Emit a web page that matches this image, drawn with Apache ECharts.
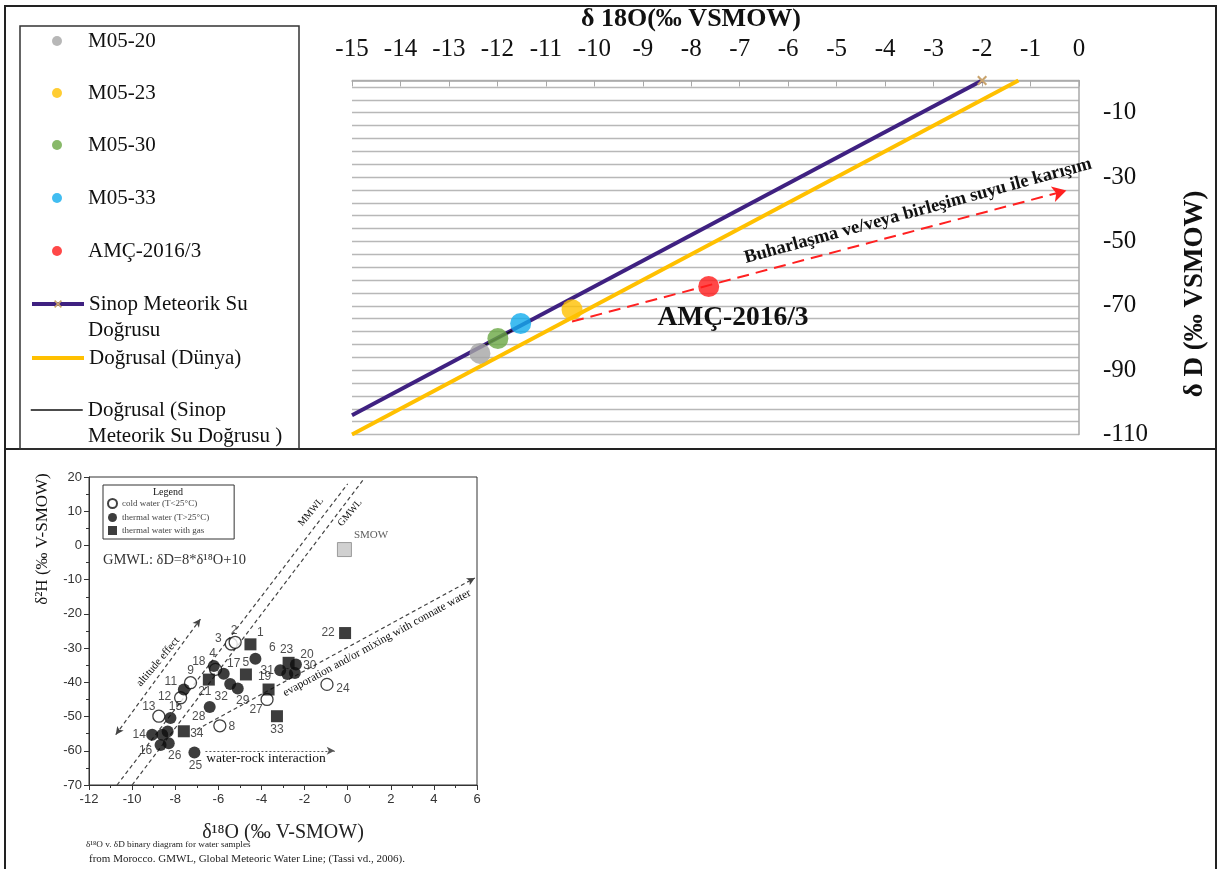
<!DOCTYPE html>
<html><head><meta charset="utf-8">
<script src="https://cdn.jsdelivr.net/npm/echarts@6/dist/echarts.min.js"></script>
<style>html,body{margin:0;padding:0;background:#fff}#c{width:1218px;height:869px}</style>
</head><body><div id="c"></div>
<script>
// ===== DATA: upper chart (Sinop samples) =====
const sampleNames = ['M05-20', 'M05-23', 'M05-30', 'M05-33', 'AMÇ-2016/3'];
const sampleO18 = [-12.36, -10.46, -11.99, -11.52, -7.64];
const sampleD = [-84.8, -71.2, -80.2, -75.5, -64.0];
const sinopLineO18 = [-15, -2];
const sinopLineD = [-104, 0];
const globalLineO18 = [-15, -1.25];
const globalLineD = [-110, 0];
const sinopTrendO18 = [-12.3, -11.7];
const sinopTrendD = [-82.5, -77.7];
const mixingO18 = [-10.46, -0.26];
const mixingD = [-74.9, -34.2];

// ===== DATA: lower chart (Morocco, Tassi et al. 2006) =====
const coldIds = ['3', '2', '4', '9', '12', '13', '8', '27', '24'];
const coldO18 = [-5.40, -5.22, -6.13, -7.29, -7.75, -8.76, -5.93, -3.74, -0.96];
const coldD = [-28.8, -28.3, -36.2, -40.1, -44.5, -49.9, -52.7, -45.0, -40.6];
const thermalIds = ['6', '18', '17', '32', '29', '11', '15', '14', '16', '26', '28', '25', '31', '20', '30', '', '', ''];
const thermalO18 = [-4.28, -6.21, -5.75, -5.45, -5.10, -7.60, -8.22, -9.07, -8.68, -8.30, -6.40, -7.11, -3.13, -2.40, -2.45, -8.60, -8.35, -2.80];
const thermalD = [-33.1, -35.2, -37.5, -40.5, -41.8, -42.1, -50.4, -55.3, -58.3, -57.8, -47.2, -60.5, -36.5, -34.8, -37.3, -55.3, -54.4, -37.6];
const gasIds = ['1', '5', '21', '19', '33', '22', '34', '23'];
const gasO18 = [-4.51, -4.72, -6.44, -3.67, -3.28, -0.12, -7.60, -2.74];
const gasD = [-28.9, -37.7, -39.2, -42.1, -49.9, -25.6, -54.3, -34.3];
const smowO18 = [-0.15];
const smowD = [-1.2];
const mmwlO18 = [-10.7, 0];
const mmwlD = [-70, 18];
const gmwlO18 = [-10, 0.7];
const gmwlD = [-70, 19];
const altitudeO18 = [-10.76, -6.83];
const altitudeD = [-55.3, -21.5];
const evapO18 = [-7.0, 5.9];
const evapD = [-53.8, -9.5];
const waterRockO18 = [-6.6, -0.6];
const waterRockD = [-60, -60];

// ===== STYLE =====
const SERIF = 'Liberation Serif';
const SANS = 'Liberation Sans';
const sampleColors = ['#A5A5A5', '#FFC000', '#6AA743', '#12ADEE', '#FF1A1A'];
const PURPLE = '#3F2181';
const GOLD = '#FFC000';
const XMARK = 'path://M0,1.5L1.5,0L5,3.5L8.5,0L10,1.5L6.5,5L10,8.5L8.5,10L5,6.5L1.5,10L0,8.5L3.5,5Z';
const labelOffsets = {
  '3': [-13, -5], '2': [-1, -12], '1': [10, -12], '6': [17, -11], '4': [-3, -16], '18': [-15, -4],
  '17': [10, -10], '5': [0, -12], '21': [-4, 12], '32': [-9, 13], '29': [5, 12], '19': [-4, -13],
  '27': [-11, 10], '23': [-2, -13], '20': [11, -10], '30': [15, -7], '31': [-13, 0], '22': [-17, 0],
  '24': [16, 4], '33': [0, 13], '8': [12, 1], '28': [-11, 10], '9': [0, -12], '11': [-13, -8],
  '12': [-16, -1], '13': [-10, -10], '15': [5, -11], '14': [-13, 0], '16': [-15, 6], '26': [6, 12],
  '34': [13, 2], '25': [1, 13]
};

const zip = (a, b) => a.map((v, i) => [v, b[i]]);

function numbered(ids, xs, ys) {
  return ids.map((id, i) => {
    const off = labelOffsets[id];
    return {
      name: id, value: [xs[i], ys[i]],
      label: off ? { show: true, position: 'inside', offset: off, formatter: '{b}',
        fontFamily: SANS, fontSize: 12, color: '#222' } : { show: false }
    };
  });
}

function arrowSeries(name, xs, ys, symbols, lineStyle, symbolSize, axisIdx) {
  const pts = zip(xs, ys);
  return {
    name, type: 'line', xAxisIndex: axisIdx, yAxisIndex: axisIdx, data: pts, symbol: 'none',
    lineStyle: { opacity: 0 }, silent: true, z: 3,
    markLine: {
      silent: true, animation: false, symbol: symbols, symbolSize: symbolSize,
      lineStyle: lineStyle, label: { show: false },
      data: [[{ coord: pts[0] }, { coord: pts[1] }]]
    }
  };
}

const chart = echarts.init(document.getElementById('c'));

const series = [
  { name: 'Doğrusal (Dünya)', type: 'line', xAxisIndex: 0, yAxisIndex: 0,
    data: zip(globalLineO18, globalLineD), symbol: 'none',
    lineStyle: { color: GOLD, width: 4 }, itemStyle: { color: GOLD }, z: 2, silent: true },
  { name: 'Sinop Meteorik Su Doğrusu', type: 'line', xAxisIndex: 0, yAxisIndex: 0,
    data: zip(sinopLineO18, sinopLineD).map((p, i, a) => i === a.length - 1 ? { value: p } : { value: p, symbol: 'none' }),
    symbol: XMARK, symbolSize: 10, showSymbol: true,
    lineStyle: { color: PURPLE, width: 4 }, itemStyle: { color: '#C9A46E' }, z: 3, silent: true },
  { name: 'Doğrusal (Sinop Meteorik Su Doğrusu )', type: 'line', xAxisIndex: 0, yAxisIndex: 0,
    data: zip(sinopTrendO18, sinopTrendD), symbol: 'none',
    lineStyle: { color: '#111', width: 1.3 }, itemStyle: { color: '#111' }, z: 4, silent: true },
  arrowSeries('mixing', mixingO18, mixingD, ['none', 'arrow'],
    { color: '#FF2020', width: 2, type: [12, 7] }, [12, 14], 0)
];
sampleNames.forEach((n, i) => {
  series.push({ name: n, type: 'scatter', xAxisIndex: 0, yAxisIndex: 0,
    data: [[sampleO18[i], sampleD[i]]], symbol: 'circle', symbolSize: 21,
    itemStyle: { color: sampleColors[i] }, z: 5, silent: true });
});

// lower chart series
const dashGray = { color: '#444', width: 1.2, type: [4, 3] };
series.push(
  { name: 'MMWL', type: 'line', xAxisIndex: 1, yAxisIndex: 1, data: zip(mmwlO18, mmwlD),
    symbol: 'none', lineStyle: dashGray, silent: true, z: 2 },
  { name: 'GMWL', type: 'line', xAxisIndex: 1, yAxisIndex: 1, data: zip(gmwlO18, gmwlD),
    symbol: 'none', lineStyle: dashGray, silent: true, z: 2 },
  arrowSeries('altitude effect', altitudeO18, altitudeD, ['arrow', 'arrow'], dashGray, [6, 8], 1),
  arrowSeries('evaporation', evapO18, evapD, ['none', 'arrow'], dashGray, [6, 8], 1),
  arrowSeries('water-rock interaction', waterRockO18, waterRockD, ['none', 'arrow'],
    { color: '#555', width: 1, type: [2, 2] }, [6, 8], 1),
  { name: 'SMOW', type: 'scatter', xAxisIndex: 1, yAxisIndex: 1,
    data: [{ name: 'SMOW', value: [smowO18[0], smowD[0]] }], symbol: 'rect', symbolSize: 14,
    itemStyle: { color: '#C4C4C4', borderColor: '#888', borderWidth: 1 },
    label: { show: true, position: 'right', offset: [-3, -14], formatter: '{b}',
      fontFamily: SERIF, fontSize: 11, color: '#333' }, silent: true, z: 4 },
  { name: 'cold water (T<25°C)', type: 'scatter', xAxisIndex: 1, yAxisIndex: 1,
    data: numbered(coldIds, coldO18, coldD), symbol: 'circle', symbolSize: 12,
    itemStyle: { color: '#fff', borderColor: '#111', borderWidth: 1.3 }, silent: true, z: 5 },
  { name: 'thermal water (T>25°C)', type: 'scatter', xAxisIndex: 1, yAxisIndex: 1,
    data: numbered(thermalIds, thermalO18, thermalD), symbol: 'circle', symbolSize: 12,
    itemStyle: { color: '#0d0d0d' }, silent: true, z: 6 },
  { name: 'thermal water with gas', type: 'scatter', xAxisIndex: 1, yAxisIndex: 1,
    data: numbered(gasIds, gasO18, gasD), symbol: 'rect', symbolSize: 12,
    itemStyle: { color: '#0d0d0d' }, silent: true, z: 6 }
);

// legend entries of the upper chart: line entries (icon 52px wide starting at x=30)
function L(name, cy, extra) {
  return Object.assign({
    data: [name], left: 30, top: cy - 11, padding: 0, itemWidth: 52, itemHeight: 10,
    selectedMode: false, orient: 'horizontal',
    textStyle: { fontFamily: SERIF, fontSize: 21, color: '#111', lineHeight: 22 }
  }, extra || {});
}
// dot entries: small circle centred at x=57, text starting at x=88
function D(name, cy) {
  return {
    data: [name], left: 52, top: cy - 11, padding: 0, itemWidth: 10, itemHeight: 10,
    selectedMode: false, orient: 'horizontal',
    textStyle: { fontFamily: SERIF, fontSize: 21, color: '#111', lineHeight: 22, padding: [0, 0, 0, 21] }
  };
}

const txt = (x, y, text, font, extra) => Object.assign({
  type: 'text', x, y, silent: true, z: 10,
  style: { text, font, fill: '#111', align: 'center', verticalAlign: 'middle' }
}, extra || {});
const ltxt = (x, y, text, font, fill) => ({
  type: 'text', x, y, silent: true, z: 10,
  style: { text, font, fill: fill || '#111', align: 'left', verticalAlign: 'middle' }
});
const deg = d => d * Math.PI / 180;

const option = {
  animation: false,
  backgroundColor: '#fff',
  grid: [
    { left: 352, width: 727, top: 80.5, height: 354, show: false },
    { left: 89, width: 388, top: 477, height: 308, show: true, borderColor: '#333', borderWidth: 1 }
  ],
  xAxis: [
    { gridIndex: 0, type: 'value', position: 'top', min: -15, max: 0, interval: 1,
      axisLine: { show: true, lineStyle: { color: '#A8A8A8', width: 1.5 } },
      axisTick: { show: true, inside: true, length: 6, lineStyle: { color: '#A8A8A8' } },
      axisLabel: { margin: 19, fontFamily: SERIF, fontSize: 25, color: '#111' },
      splitLine: { show: false } },
    { gridIndex: 1, type: 'value', position: 'bottom', min: -12, max: 6, interval: 2,
      name: 'δ¹⁸O (‰ V-SMOW)', nameLocation: 'middle', nameGap: 38,
      nameTextStyle: { fontFamily: SERIF, fontSize: 20, color: '#222' },
      axisLine: { show: true, onZero: false, lineStyle: { color: '#333' } },
      axisTick: { show: true, length: 5, lineStyle: { color: '#333' } },
      minorTick: { show: true, splitNumber: 2, length: 3, lineStyle: { color: '#333' } },
      axisLabel: { margin: 8, fontFamily: SANS, fontSize: 13, color: '#333' },
      splitLine: { show: false } }
  ],
  yAxis: [
    { gridIndex: 0, type: 'value', position: 'right', min: -110, max: 0, interval: 4,
      axisLine: { show: true, lineStyle: { color: '#A8A8A8', width: 1.5 } },
      axisTick: { show: false },
      axisLabel: { margin: 24, fontFamily: SERIF, fontSize: 25, color: '#111',
        formatter: v => ((Math.round(v) + 110) % 20 === 0 && v < 0) ? String(v) : '' },
      splitLine: { show: true, lineStyle: { color: '#B8B8B8', width: 1.3 } } },
    { gridIndex: 1, type: 'value', min: -70, max: 20, interval: 10,
      axisLine: { show: true, onZero: false, lineStyle: { color: '#333' } },
      axisTick: { show: true, length: 5, lineStyle: { color: '#333' } },
      minorTick: { show: true, splitNumber: 2, length: 3, lineStyle: { color: '#333' } },
      axisLabel: { margin: 7, fontFamily: SANS, fontSize: 13, color: '#333' },
      splitLine: { show: false } }
  ],
  legend: [
    D('M05-20', 41), D('M05-23', 93), D('M05-30', 145), D('M05-33', 198), D('AMÇ-2016/3', 251),
    L('Sinop Meteorik Su Doğrusu', 304, { formatter: () => 'Sinop Meteorik Su', lineStyle: { width: 4 } }),
    L('Doğrusal (Dünya)', 358, { lineStyle: { width: 4 }, itemStyle: { opacity: 0 } }),
    L('Doğrusal (Sinop Meteorik Su Doğrusu )', 410, { formatter: () => 'Doğrusal (Sinop', lineStyle: { width: 1.5 }, itemStyle: { opacity: 0 } }),
    { data: ['cold water (T<25°C)', 'thermal water (T>25°C)', 'thermal water with gas'],
      orient: 'vertical', left: 103, top: 485, padding: [13, 25, 4, 4], itemGap: 4,
      itemWidth: 9, itemHeight: 9, borderColor: '#333', borderWidth: 1, selectedMode: false,
      textStyle: { fontFamily: SERIF, fontSize: 9, color: '#444', lineHeight: 9 } }
  ],
  graphic: [
    // frames
    { type: 'rect', silent: true, z: 0, shape: { x: 5, y: 6, width: 1211, height: 880 },
      style: { fill: 'none', stroke: '#222', lineWidth: 2 } },
    { type: 'line', silent: true, z: 0, shape: { x1: 5, y1: 449, x2: 1216, y2: 449 },
      style: { stroke: '#222', lineWidth: 2 } },
    { type: 'rect', silent: true, z: 0, shape: { x: 20, y: 26, width: 279, height: 423 },
      style: { fill: 'none', stroke: '#333', lineWidth: 1.5 } },
    // second lines of legend labels
    ltxt(88, 330, 'Doğrusu', '21px "Liberation Serif"'),
    ltxt(88, 436, 'Meteorik Su Doğrusu )', '21px "Liberation Serif"'),
    // upper axis titles
    txt(691, 19, 'δ 18O(‰ VSMOW)', 'bold 26px "Liberation Serif"'),
    txt(1195, 294, 'δ D (‰ VSMOW)', 'bold 27px "Liberation Serif"', { rotation: deg(90) }),
    // upper annotations
    txt(733, 318, 'AMÇ-2016/3', 'bold 27.5px "Liberation Serif"'),
    txt(918, 211, 'Buharlaşma ve/veya birleşim suyu ile karışım', 'bold 18.5px "Liberation Serif"', { rotation: deg(15.3) }),
    // lower chart texts
    txt(43, 539, 'δ²H (‰ V-SMOW)', '17px "Liberation Serif"', { rotation: deg(90) }),
    txt(168, 492, 'Legend', '10px "Liberation Serif"'),
    txt(311, 512, 'MMWL', '10px "Liberation Serif"', { rotation: deg(50) }),
    txt(350, 513, 'GMWL', '10px "Liberation Serif"', { rotation: deg(50) }),
    ltxt(103, 560, 'GMWL: δD=8*δ¹⁸O+10', '14.5px "Liberation Serif"', '#333'),
    txt(158, 662, 'altitude effect', '11px "Liberation Serif"', { rotation: deg(50) }),
    txt(377, 643, 'evaporation and/or mixing with connate water', '11.5px "Liberation Serif"', { rotation: deg(28.6) }),
    txt(266, 758, 'water-rock interaction', '13.5px "Liberation Serif"'),
    ltxt(86, 845, 'δ¹⁸O v. δD binary diagram for water samples', '9.2px "Liberation Serif"', '#222'),
    ltxt(89, 859, 'from Morocco. GMWL, Global Meteoric Water Line; (Tassi vd., 2006).', '11px "Liberation Serif"', '#222')
  ],
  series
};
chart.setOption(option);
</script>
</body></html>
